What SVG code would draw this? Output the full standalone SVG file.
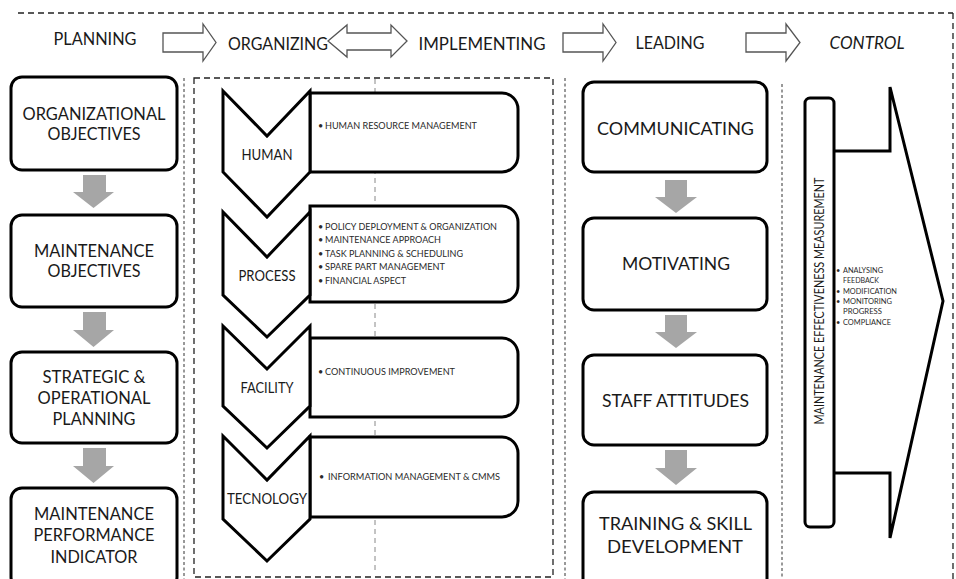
<svg xmlns="http://www.w3.org/2000/svg" width="956" height="579" viewBox="0 0 956 579">
<style>
text{font-family:Lato,"Open Sans","Liberation Sans",sans-serif;fill:#1a1a1a}
.hdr{font-size:17.5px;text-anchor:middle}
.box{fill:#fff;stroke:#000;stroke-width:3}
.lbl{font-size:17.5px;text-anchor:middle}
.chev{fill:#fff;stroke:#000;stroke-width:3;stroke-linejoin:miter}
.tab{fill:#fff;stroke:#000;stroke-width:3}
.clbl{font-size:14.5px;text-anchor:middle}
.bul{font-size:9px;fill:#2a2a2a}
.cb{font-size:7.4px;fill:#2a2a2a}
.harrow{fill:#fff;stroke:#555;stroke-width:1.3;stroke-linejoin:miter}
.garrow{fill:#a6a6a6}
.dash{fill:none;stroke:#222;stroke-width:1.3;stroke-dasharray:6 4}
.dot{fill:none;stroke:#333;stroke-width:1;stroke-dasharray:3 2.5}
.faint{fill:none;stroke:#888;stroke-width:1;stroke-dasharray:5 4}
</style>

<g id="frame">
<line class="dash" x1="18" y1="13" x2="953" y2="13"/>
<line class="dash" x1="953" y1="13" x2="953" y2="579"/>
<line class="dot" x1="184" y1="78" x2="184" y2="579"/>
<line class="dot" x1="565" y1="78" x2="565" y2="579"/>
<line class="dot" x1="782" y1="84" x2="782" y2="579"/>
<rect class="dash" x="194" y="78" width="359" height="499"/>
<line class="faint" x1="375" y1="79" x2="375" y2="572"/>
</g>

<g id="header">
<text class="hdr" x="95" y="45" textLength="83" lengthAdjust="spacingAndGlyphs">PLANNING</text>
<text class="hdr" x="278" y="50" textLength="100" lengthAdjust="spacingAndGlyphs">ORGANIZING</text>
<text class="hdr" x="482" y="50" textLength="127" lengthAdjust="spacingAndGlyphs">IMPLEMENTING</text>
<text class="hdr" x="670" y="49" textLength="69" lengthAdjust="spacingAndGlyphs">LEADING</text>
<text class="hdr" x="867" y="49" font-style="italic" textLength="75" lengthAdjust="spacingAndGlyphs">CONTROL</text>
</g>

<g id="connectors">
<path class="harrow" d="M163,33 H203 V24 L216,42.5 L203,61 V52 H163 Z"/>
<path class="harrow" d="M328,41 L347,25 V33 H391 V25 L407,41 L391,57 V50 H347 V57 Z"/>
<path class="harrow" d="M563,33 H603 V24 L616,42.5 L603,61 V52 H563 Z"/>
<path class="harrow" d="M746,33 H786 V24 L800,42.5 L786,61 V52 H746 Z"/>
<path class="garrow" d="M83,175 H106 V192 H114 L93.5,208 L73,192 H83 Z"/>
<path class="garrow" d="M83,312 H106 V330 H114 L93.5,347 L73,330 H83 Z"/>
<path class="garrow" d="M83,448 H106 V466 H114 L93.5,483 L73,466 H83 Z"/>
<path class="garrow" d="M665,180 H687 V197 H697 L676,213 L655,197 H665 Z"/>
<path class="garrow" d="M665,315 H687 V332 H697 L676,348 L655,332 H665 Z"/>
<path class="garrow" d="M665,450 H687 V468 H697 L676,485 L655,468 H665 Z"/>
</g>

<g id="organizational-objectives">
<rect class="box" x="11" y="77" width="166" height="93" rx="11"/>
<text class="lbl" x="94" y="120" textLength="143" lengthAdjust="spacingAndGlyphs">ORGANIZATIONAL</text>
<text class="lbl" x="94" y="140" textLength="93" lengthAdjust="spacingAndGlyphs">OBJECTIVES</text>
</g>
<g id="maintenance-objectives">
<rect class="box" x="11" y="215" width="166" height="92" rx="11"/>
<text class="lbl" x="94" y="257" textLength="120" lengthAdjust="spacingAndGlyphs">MAINTENANCE</text>
<text class="lbl" x="94" y="277" textLength="93" lengthAdjust="spacingAndGlyphs">OBJECTIVES</text>
</g>
<g id="strategic-planning">
<rect class="box" x="11" y="352" width="166" height="91" rx="11"/>
<text class="lbl" x="94" y="383" textLength="103" lengthAdjust="spacingAndGlyphs">STRATEGIC &amp;</text>
<text class="lbl" x="94" y="404" textLength="113" lengthAdjust="spacingAndGlyphs">OPERATIONAL</text>
<text class="lbl" x="94" y="425" textLength="83" lengthAdjust="spacingAndGlyphs">PLANNING</text>
</g>
<g id="performance-indicator">
<rect class="box" x="11" y="488" width="166" height="100" rx="11"/>
<text class="lbl" x="94" y="520" textLength="120" lengthAdjust="spacingAndGlyphs">MAINTENANCE</text>
<text class="lbl" x="94" y="541" textLength="121" lengthAdjust="spacingAndGlyphs">PERFORMANCE</text>
<text class="lbl" x="94" y="563" textLength="87" lengthAdjust="spacingAndGlyphs">INDICATOR</text>
</g>

<g id="human">
<path class="tab" d="M310,93 H502 A16,16 0 0 1 518,109 V156 A16,16 0 0 1 502,172 H310 Z"/>
<path class="chev" d="M223,91 L267,136 L310,91 V172 L267,217 L223,172 Z"/>
<text class="clbl" x="267" y="160" textLength="51" lengthAdjust="spacingAndGlyphs">HUMAN</text>
<text class="bul" x="318" y="129">•</text>
<text class="bul" x="325" y="129" textLength="152" lengthAdjust="spacingAndGlyphs">HUMAN RESOURCE MANAGEMENT</text>
</g>
<g id="process">
<path class="tab" d="M310,206 H502 A16,16 0 0 1 518,222 V286 A16,16 0 0 1 502,302 H310 Z"/>
<path class="chev" d="M223,212 L267,257 L310,212 V295 L267,337 L223,295 Z"/>
<text class="clbl" x="267" y="281" textLength="57" lengthAdjust="spacingAndGlyphs">PROCESS</text>
<text class="bul" x="318" y="230">•</text>
<text class="bul" x="325" y="230" textLength="172" lengthAdjust="spacingAndGlyphs">POLICY DEPLOYMENT &amp; ORGANIZATION</text>
<text class="bul" x="318" y="243">•</text>
<text class="bul" x="325" y="243" textLength="116" lengthAdjust="spacingAndGlyphs">MAINTENANCE APPROACH</text>
<text class="bul" x="318" y="257">•</text>
<text class="bul" x="325" y="257" textLength="138" lengthAdjust="spacingAndGlyphs">TASK PLANNING &amp; SCHEDULING</text>
<text class="bul" x="318" y="270">•</text>
<text class="bul" x="325" y="270" textLength="120" lengthAdjust="spacingAndGlyphs">SPARE PART MANAGEMENT</text>
<text class="bul" x="318" y="284">•</text>
<text class="bul" x="325" y="284" textLength="81" lengthAdjust="spacingAndGlyphs">FINANCIAL ASPECT</text>
</g>
<g id="facility">
<path class="tab" d="M310,338 H502 A16,16 0 0 1 518,354 V401 A16,16 0 0 1 502,417 H310 Z"/>
<path class="chev" d="M223,326 L267,369 L310,326 V406 L267,448 L223,406 Z"/>
<text class="clbl" x="267" y="393" textLength="53" lengthAdjust="spacingAndGlyphs">FACILITY</text>
<text class="bul" x="318" y="375">•</text>
<text class="bul" x="325" y="375" textLength="130" lengthAdjust="spacingAndGlyphs">CONTINUOUS IMPROVEMENT</text>
</g>
<g id="tecnology">
<path class="tab" d="M310,437 H502 A16,16 0 0 1 518,453 V501 A16,16 0 0 1 502,517 H310 Z"/>
<path class="chev" d="M223,436 L267,480 L310,436 V519 L267,561 L223,519 Z"/>
<text class="clbl" x="267" y="504" textLength="80" lengthAdjust="spacingAndGlyphs">TECNOLOGY</text>
<text class="bul" x="319" y="480">•</text>
<text class="bul" x="328" y="480" textLength="172" lengthAdjust="spacingAndGlyphs">INFORMATION MANAGEMENT &amp; CMMS</text>
</g>

<g id="communicating">
<rect class="box" x="583" y="82" width="184" height="90" rx="11"/>
<text class="lbl" x="675.5" y="135" textLength="157" lengthAdjust="spacingAndGlyphs">COMMUNICATING</text>
</g>
<g id="motivating">
<rect class="box" x="583" y="218" width="184" height="92" rx="11"/>
<text class="lbl" x="676" y="270" textLength="108" lengthAdjust="spacingAndGlyphs">MOTIVATING</text>
</g>
<g id="staff-attitudes">
<rect class="box" x="583" y="355" width="184" height="90" rx="11"/>
<text class="lbl" x="675.5" y="407" textLength="147" lengthAdjust="spacingAndGlyphs">STAFF ATTITUDES</text>
</g>
<g id="training">
<rect class="box" x="583" y="492" width="184" height="100" rx="11"/>
<text class="lbl" x="675.5" y="530" textLength="153" lengthAdjust="spacingAndGlyphs">TRAINING &amp; SKILL</text>
<text class="lbl" x="675" y="553" textLength="136" lengthAdjust="spacingAndGlyphs">DEVELOPMENT</text>
</g>

<g id="control">
<path fill="#fff" stroke="#000" stroke-width="3" stroke-linejoin="miter" d="M834,151 H890 V87 L943,301 L890,538 V473 H834"/>
<rect class="box" x="805" y="98" width="29" height="429" rx="5"/>
<text transform="translate(824,301) rotate(-90)" font-size="13" text-anchor="middle" textLength="247" lengthAdjust="spacingAndGlyphs">MAINTENANCE EFFECTIVENESS MEASUREMENT</text>
<text class="cb" x="836" y="273">•</text>
<text class="cb" x="843" y="273" textLength="40" lengthAdjust="spacingAndGlyphs">ANALYSING</text>
<text class="cb" x="843" y="283" textLength="36" lengthAdjust="spacingAndGlyphs">FEEDBACK</text>
<text class="cb" x="836" y="294">•</text>
<text class="cb" x="843" y="294" textLength="54" lengthAdjust="spacingAndGlyphs">MODIFICATION</text>
<text class="cb" x="836" y="304">•</text>
<text class="cb" x="843" y="304" textLength="49" lengthAdjust="spacingAndGlyphs">MONITORING</text>
<text class="cb" x="843" y="314" textLength="39" lengthAdjust="spacingAndGlyphs">PROGRESS</text>
<text class="cb" x="836" y="325">•</text>
<text class="cb" x="843" y="325" textLength="48" lengthAdjust="spacingAndGlyphs">COMPLIANCE</text>
</g>
</svg>
